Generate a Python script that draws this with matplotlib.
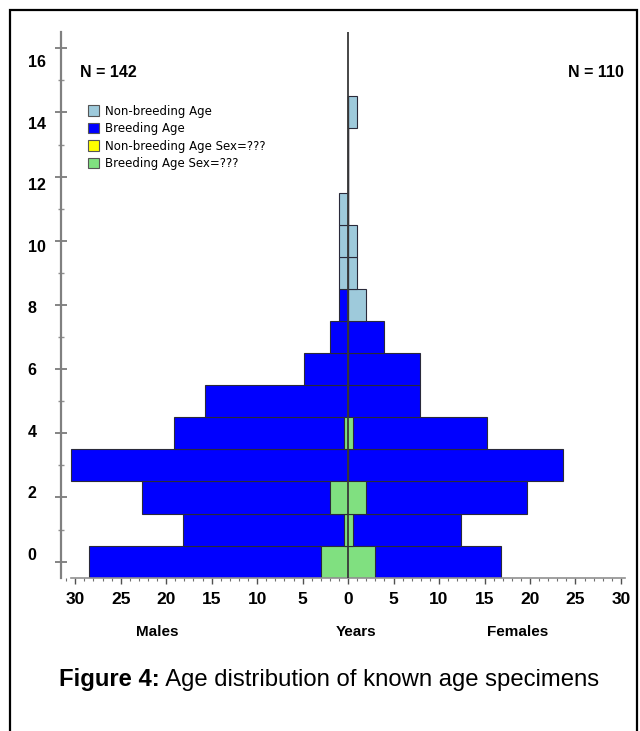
import numpy as np
import matplotlib.pyplot as plt
import matplotlib.transforms as mtransforms
from matplotlib.patches import Patch, Rectangle
from matplotlib.ticker import MultipleLocator, FuncFormatter, NullFormatter

ages = np.arange(0, 15)
male_breeding = np.array([28.5, 18.2, 22.7, 30.5, 19.1, 15.7, 4.9, 2.0, 1.0, 0, 0, 0, 0, 0, 0])
male_nonbreeding = np.array([0, 0, 0, 0, 0, 0, 0, 0, 0, 1, 1, 1, 0, 0, 0])
female_breeding = np.array([16.8, 12.4, 19.7, 23.6, 15.3, 7.9, 7.9, 4.0, 0, 0, 0, 0, 0, 0, 0])
female_nonbreeding = np.array([0, 0, 0, 0, 0, 0, 0, 0, 2, 1, 1, 0, 0, 0, 1])
# unknown sex, shown centred on the axis
unknown_breeding = np.array([6, 1, 4, 0, 1, 0, 0, 0, 0, 0, 0, 0, 0, 0, 0])
unknown_nonbreeding = np.zeros(15)

y_labels = [0, 2, 4, 6, 8, 10, 12, 14, 16]
n_males = 142
n_females = 110
legend_labels = ["Non-breeding Age", "Breeding Age", "Non-breeding Age Sex=???", "Breeding Age Sex=???"]

c_nonbreed = "#9ecadb"
c_breed = "#0000ff"
c_unk_nonbreed = "#ffff00"
c_unk_breed = "#80e080"
edge = "#2a2a3a"

fig = plt.figure(figsize=(6.4, 7.31), dpi=100)
ax = fig.add_axes([0.0948, 0.2097, 0.884, 0.7462])

bar_kw = dict(height=1.0, edgecolor=edge, linewidth=0.8)
ax.barh(ages, -male_breeding, color=c_breed, **bar_kw)
ax.barh(ages, -male_nonbreeding, color=c_nonbreed, **bar_kw)
ax.barh(ages, female_breeding, color=c_breed, **bar_kw)
ax.barh(ages, female_nonbreeding, color=c_nonbreed, **bar_kw)
ax.barh(ages, unknown_nonbreeding, left=-unknown_nonbreeding / 2, color=c_unk_nonbreed, **bar_kw)
ax.barh(ages, unknown_breeding, left=-unknown_breeding / 2, color=c_unk_breed, **bar_kw)
ax.axvline(0, color="#383838", linewidth=1.3, zorder=5)

ax.set_xlim(-31.6, 30.6)
ax.set_ylim(-0.5, 16.5)

for s in ["top", "right"]:
    ax.spines[s].set_visible(False)
ax.spines["left"].set_color("#808080")
ax.spines["left"].set_linewidth(1.6)
ax.spines["bottom"].set_color("#909090")
ax.spines["bottom"].set_linewidth(1.2)
ax.spines["bottom"].set_bounds(-30.5, 30.4)

ax.yaxis.set_major_locator(MultipleLocator(2))
ax.yaxis.set_minor_locator(MultipleLocator(1))
ax.yaxis.set_major_formatter(NullFormatter())
ax.xaxis.set_major_locator(MultipleLocator(5))
ax.xaxis.set_minor_locator(MultipleLocator(1))
ax.xaxis.set_major_formatter(FuncFormatter(lambda v, p: f"{abs(v):.0f}"))

ax.tick_params(axis="y", which="major", direction="inout", length=8, width=1.2, color="#707070")
ax.tick_params(axis="y", which="minor", direction="inout", length=5, width=1.0, color="#909090")
ax.tick_params(axis="x", which="major", direction="out", length=4, width=1.0, color="#505050", pad=6)
ax.tick_params(axis="x", which="minor", direction="out", length=2.5, width=0.8, color="#707070")
for lab in ax.get_xticklabels():
    lab.set_fontfamily("Liberation Sans")
    lab.set_fontweight("bold")
    lab.set_fontsize(12.5)

# the original software spaces its y labels slightly tighter than the ticks
ytrans = mtransforms.blended_transform_factory(ax.transAxes, ax.transData)
for v in y_labels:
    ax.text(-0.058, v * 0.96 + 0.2, str(v), transform=ytrans, ha="left", va="center",
            fontfamily="Liberation Sans", fontweight="bold", fontsize=11.5)

lbl_kw = dict(fontfamily="Liberation Sans", fontweight="bold", fontsize=11, ha="center", va="center",
              transform=ax.get_xaxis_transform())
ax.text(-21, -0.1, "Males", **lbl_kw)
ax.text(0.9, -0.1, "Years", **lbl_kw)
ax.text(18.6, -0.1, "Females", **lbl_kw)

fig.text(0.125, 0.901, f"N = {n_males}", fontfamily="Liberation Sans", fontweight="bold",
         fontsize=11.5, va="center", ha="left")
fig.text(0.975, 0.901, f"N = {n_females}", fontfamily="Liberation Sans", fontweight="bold",
         fontsize=11.5, va="center", ha="right")

handles = [Patch(facecolor=c, edgecolor="#555555", linewidth=0.8)
           for c in [c_nonbreed, c_breed, c_unk_nonbreed, c_unk_breed]]
fig.legend(handles, legend_labels, loc="upper left", bbox_to_anchor=(0.137, 0.857),
           frameon=False, fontsize=8.5, handlelength=1.0, handleheight=0.95,
           handletextpad=0.5, labelspacing=0.38, borderpad=0, borderaxespad=0)

# caption: bold prefix then regular text
cap = fig.text(0.092, 0.062, "Figure 4:", fontfamily="Liberation Sans",
               fontweight="bold", fontsize=17.2, ha="left", va="baseline")
ax.annotate(" Age distribution of known age specimens", xy=(1, 0), xycoords=cap,
            fontfamily="Liberation Sans", fontsize=17.2,
            ha="left", va="bottom", annotation_clip=False)

fig.add_artist(Rectangle((10 / 640, -0.02), 627 / 640, 1 - 9.5 / 731 + 0.02, transform=fig.transFigure,
                         fill=False, edgecolor="black", linewidth=1.6))

fig.savefig("out.png", dpi=100)
